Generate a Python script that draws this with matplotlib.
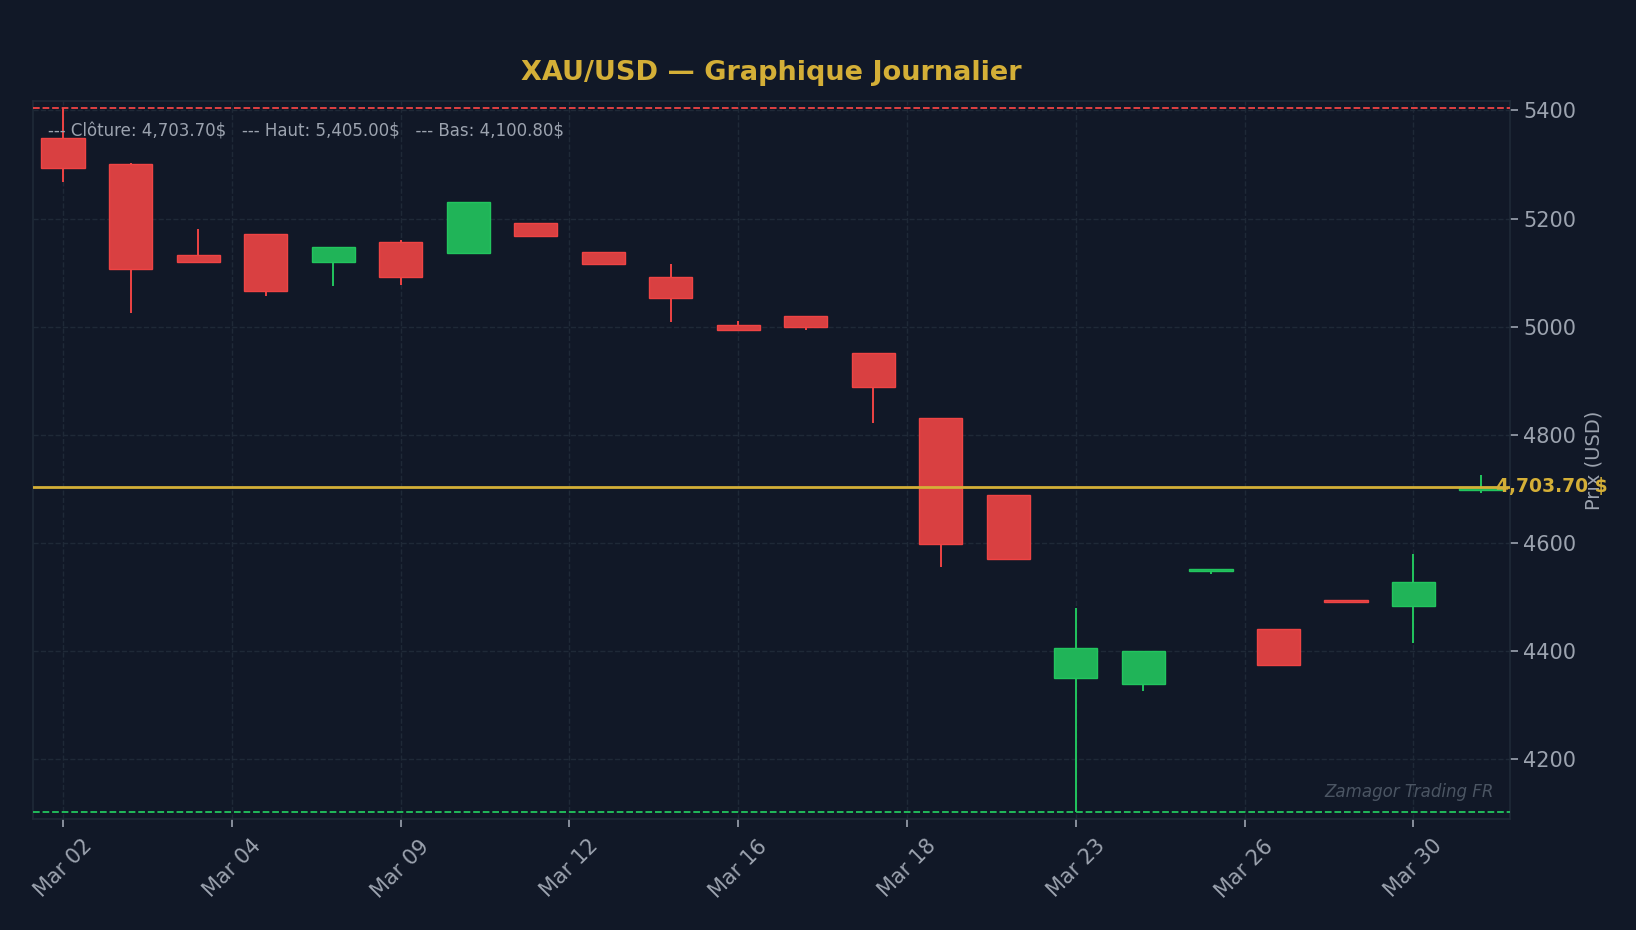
import numpy as np
import matplotlib
matplotlib.use("Agg")
import matplotlib.pyplot as plt

# Daily candles, XAU/USD, March
dates = ["Mar 02", "Mar 03", "Mar 04", "Mar 05", "Mar 06", "Mar 09", "Mar 10", "Mar 11",
         "Mar 12", "Mar 13", "Mar 16", "Mar 17", "Mar 18", "Mar 19", "Mar 20", "Mar 23",
         "Mar 24", "Mar 25", "Mar 26", "Mar 27", "Mar 30", "Mar 31"]
opens = [5349, 5301, 5133, 5172, 5120, 5156, 5137, 5191, 5138, 5091, 5002, 5019,
         4951, 4830, 4688, 4350, 4339, 4548, 4441, 4493, 4482, 4697]
highs = [5405, 5303, 5181, 5172, 5147, 5161, 5230, 5191, 5138, 5116, 5010, 5019,
         4951, 4830, 4688, 4479, 4399, 4551, 4441, 4493, 4579, 4725]
lows = [5267, 5025, 5119, 5056, 5075, 5077, 5137, 5167, 5115, 5009, 4993, 4994,
        4822, 4554, 4569, 4100.8, 4326, 4541, 4374, 4491, 4414, 4692]
closes = [5293, 5106, 5119, 5065, 5147, 5091, 5230, 5167, 5115, 5052, 4993, 5000,
          4889, 4598, 4569, 4404, 4399, 4551, 4374, 4491, 4527, 4703.70]
tick_pos = [0, 2.5, 5, 7.5, 10, 12.5, 15, 17.5, 20]

BG = "#111827"
GRID = "#1f2937"
TXT = "#9ca3af"
GOLD = "#d4af37"
UP = "#22c55e"
DOWN = "#ef4444"
UP_FILL = "#20b458"
DOWN_FILL = "#d94041"


def draw_candles(ax, o, h, l, c):
    x = np.arange(len(o))
    for i in x:
        up = c[i] >= o[i]
        col = UP if up else DOWN
        fill = UP_FILL if up else DOWN_FILL
        ax.vlines(i, l[i], h[i], color=col, linewidth=1.4, zorder=2)
        bottom = min(o[i], c[i])
        height = max(abs(c[i] - o[i]), 1.5)
        ax.bar(i, height, bottom=bottom, width=0.64, color=fill,
               edgecolor=col, linewidth=1.0, zorder=3)


def main():
    fig = plt.figure(figsize=(16.36, 9.3), dpi=100, facecolor=BG)
    ax = fig.add_axes([0.0204, 0.119, 0.9026, 0.7727])
    ax.set_facecolor(BG)

    draw_candles(ax, opens, highs, lows, closes)

    hi = max(highs)
    lo = min(lows)
    last = closes[-1]
    rng = hi - lo
    ax.axhline(hi, color=DOWN, linestyle="--", linewidth=1.3, zorder=4)
    ax.axhline(lo, color=UP, linestyle="--", linewidth=1.3, zorder=4)
    ax.axhline(last, color=GOLD, linestyle="-", linewidth=2.0, zorder=4)

    ax.set_ylim(lo - 0.01 * rng, hi + 0.01 * rng)
    ax.set_xlim(-0.44, 21.43)

    ax.set_xticks(tick_pos)
    ax.set_xticklabels([dates[int(round(t))] for t in tick_pos], rotation=45)
    ax.set_yticks([4200, 4400, 4600, 4800, 5000, 5200, 5400])
    ax.yaxis.tick_right()
    ax.yaxis.set_label_position("right")
    ax.tick_params(colors=TXT, labelsize=15, length=6, width=1.2)
    ax.tick_params(axis="x", pad=6)
    ax.set_ylabel("Prix (USD)", color=TXT, fontsize=14, labelpad=6)

    ax.grid(True, color=GRID, linestyle="--", linewidth=1.0, zorder=0)
    ax.set_axisbelow(True)
    for s in ax.spines.values():
        s.set_color(GRID)
        s.set_linewidth(1.2)

    ax.set_title("XAU/USD — Graphique Journalier", color=GOLD, fontsize=19.5,
                 fontweight="bold", pad=15)

    info = ("--- Clôture: {:,.2f}$   --- Haut: {:,.2f}$   --- Bas: {:,.2f}$"
            .format(last, hi, lo))
    ax.text(0.01, 0.957, info, transform=ax.transAxes, color=TXT, fontsize=12,
            ha="left", va="center", zorder=5)

    ax.text(len(dates) - 0.78, last, "{:,.2f} $".format(last), color=GOLD, fontsize=13.5,
            fontweight="bold", ha="left", va="center", zorder=6, clip_on=False)

    ax.text(0.989, 0.025, "Zamagor Trading FR", transform=ax.transAxes, color="#4b5563",
            fontsize=12, style="italic", ha="right", va="bottom", zorder=5)

    fig.savefig("out.png", dpi=100, facecolor=BG)


if __name__ == "__main__":
    main()
